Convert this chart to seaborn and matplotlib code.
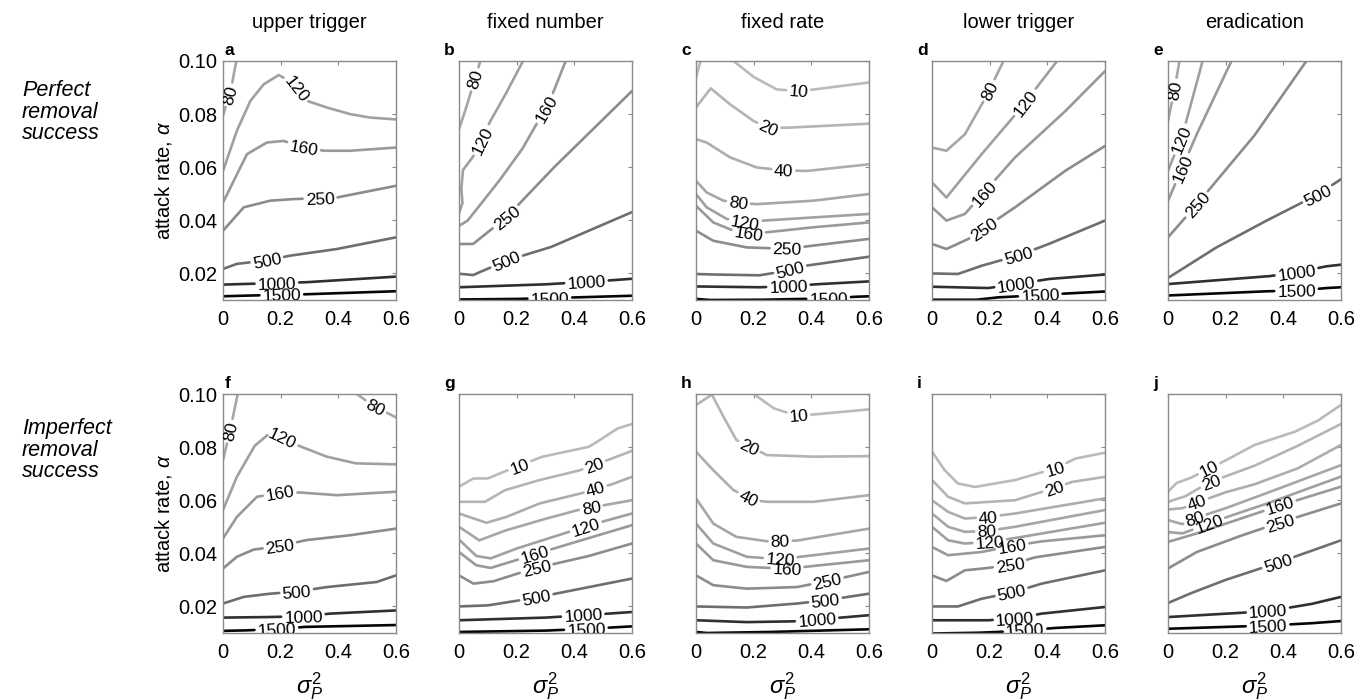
import numpy as np
import matplotlib
matplotlib.use("Agg")
import matplotlib.pyplot as plt
import seaborn as sns
from matplotlib.font_manager import FontProperties

# ---------------- data (contour polylines) ----------------
LEVELS = [10, 20, 40, 80, 120, 160, 250, 500, 1000, 1500]
COL_TITLES = ["upper trigger", "fixed number", "fixed rate", "lower trigger", "eradication"]
PANEL_LETTERS = ["a", "b", "c", "d", "e", "f", "g", "h", "i", "j"]
ROW_LABELS = ["Perfect\nremoval\nsuccess", "Imperfect\nremoval\nsuccess"]
X_TICKS = [0, 0.2, 0.4, 0.6]
X_TICKLABELS = ["0", "0.2", "0.4", "0.6"]
Y_TICKS = [0.02, 0.04, 0.06, 0.08, 0.10]
Y_TICKLABELS = ["0.02", "0.04", "0.06", "0.08", "0.10"]

# panel a : upper trigger, perfect removal
A_LINES = {
    80: [([0.0, 0.031, 0.046], [0.0793, 0.0912, 0.100])],
    120: [([0, 0.048, 0.095, 0.141, 0.193, 0.240, 0.291, 0.36, 0.441, 0.51, 0.6],
           [0.0586, 0.0737, 0.085, 0.0912, 0.0947, 0.092, 0.085, 0.0825, 0.080, 0.0787, 0.078])],
    160: [([0, 0.083, 0.152, 0.21, 0.28, 0.35, 0.44, 0.6],
           [0.0467, 0.0649, 0.0693, 0.0699, 0.0675, 0.0662, 0.0662, 0.0674])],
    250: [([0, 0.072, 0.164, 0.245, 0.395, 0.6], [0.0361, 0.0449, 0.0474, 0.048, 0.0486, 0.053])],
    500: [([0, 0.048, 0.15, 0.233, 0.395, 0.6], [0.0217, 0.0236, 0.0249, 0.0267, 0.0292, 0.0336])],
    1000: [([0, 0.095, 0.29, 0.6], [0.0158, 0.0161, 0.0167, 0.0188])],
    1500: [([0, 0.1, 0.27, 0.6], [0.0114, 0.0117, 0.0121, 0.0133])],
}
A_LABELS = [(80, 0.037, 0.0868), (120, 0.256, 0.0897), (160, 0.279, 0.0668), (250, 0.337, 0.0477),
            (500, 0.152, 0.0251), (1000, 0.187, 0.0154), (1500, 0.204, 0.0112)]

# panel b : fixed number, perfect removal
B_LINES = {
    80: [([0, 0.025, 0.074], [0.0743, 0.0825, 0.10])],
    120: [([0.0, 0.012, 0.008, 0.014, 0.049, 0.107, 0.164, 0.222],
           [0.0427, 0.0465, 0.052, 0.059, 0.064, 0.077, 0.088, 0.10])],
    160: [([0, 0.03, 0.14, 0.22, 0.315, 0.37], [0.0379, 0.0399, 0.055, 0.067, 0.085, 0.10])],
    250: [([0, 0.049, 0.164, 0.33, 0.6], [0.0311, 0.0311, 0.0411, 0.060, 0.0887])],
    500: [([0, 0.049, 0.164, 0.32, 0.6], [0.0199, 0.0194, 0.0248, 0.030, 0.0431])],
    1000: [([0, 0.3, 0.5, 0.6], [0.0148, 0.0159, 0.0172, 0.018])],
    1500: [([0, 0.2, 0.41, 0.6], [0.0102, 0.0104, 0.011, 0.0116])],
}
B_LABELS = [(80, 0.054, 0.0931), (120, 0.095, 0.0693), (160, 0.3, 0.082), (250, 0.164, 0.0411),
            (500, 0.164, 0.0248), (1000, 0.442, 0.0167), (1500, 0.315, 0.0108)]

# panel c : fixed rate, perfect removal
C_LINES = {
    10: [([0.13, 0.2, 0.28, 0.356, 0.41, 0.6], [0.10, 0.094, 0.0893, 0.0887, 0.0893, 0.0919]),
         ([0, 0.014], [0.0937, 0.0994])],
    20: [([0, 0.051, 0.118, 0.2, 0.252, 0.32, 0.6], [0.0825, 0.0897, 0.0837, 0.0774, 0.0748, 0.0749, 0.0764])],
    40: [([0, 0.037, 0.118, 0.211, 0.304, 0.385, 0.6], [0.0706, 0.0693, 0.0637, 0.0599, 0.0588, 0.0586, 0.0611])],
    80: [([0, 0.037, 0.095, 0.147, 0.211, 0.408, 0.6], [0.0549, 0.0505, 0.0474, 0.0466, 0.0461, 0.0474, 0.0499])],
    120: [([0, 0.037, 0.107, 0.171, 0.234, 0.408, 0.6], [0.0499, 0.0449, 0.0405, 0.0393, 0.0399, 0.0411, 0.0424])],
    160: [([0, 0.06, 0.13, 0.182, 0.246, 0.408, 0.6], [0.0455, 0.0392, 0.0361, 0.0352, 0.0355, 0.0374, 0.0392])],
    250: [([0, 0.06, 0.176, 0.316, 0.408, 0.6], [0.0361, 0.0323, 0.0298, 0.0293, 0.0305, 0.033])],
    500: [([0, 0.06, 0.22, 0.30, 0.38, 0.6], [0.0198, 0.0196, 0.0193, 0.0207, 0.0229, 0.0263])],
    1000: [([0, 0.223, 0.321, 0.43, 0.6], [0.0151, 0.0148, 0.0152, 0.016, 0.017])],
    1500: [([0, 0.05, 0.23, 0.46, 0.55, 0.6], [0.0104, 0.0100, 0.0101, 0.0106, 0.0112, 0.0114])],
}
C_LABELS = [(10, 0.356, 0.0887), (20, 0.252, 0.0743), (40, 0.304, 0.0586), (80, 0.147, 0.0467),
            (120, 0.171, 0.0392), (160, 0.182, 0.0348), (250, 0.316, 0.0292), (500, 0.327, 0.0213),
            (1000, 0.321, 0.0138), (1500, 0.46, 0.0106)]

# panel d : lower trigger, perfect removal
D_LINES = {
    80: [([0, 0.05, 0.114, 0.19, 0.248], [0.0674, 0.0662, 0.0724, 0.087, 0.10])],
    120: [([0, 0.05, 0.172, 0.3, 0.434], [0.0543, 0.0486, 0.0649, 0.0812, 0.10])],
    160: [([0, 0.05, 0.114, 0.288, 0.463, 0.6], [0.0449, 0.0399, 0.0424, 0.0637, 0.0812, 0.0962])],
    250: [([0, 0.05, 0.126, 0.288, 0.463, 0.6], [0.0311, 0.0292, 0.033, 0.0449, 0.0587, 0.068])],
    500: [([0, 0.09, 0.172, 0.3, 0.405, 0.6], [0.020, 0.0198, 0.0229, 0.0268, 0.0311, 0.0399])],
    1000: [([0, 0.195, 0.294, 0.405, 0.6], [0.015, 0.0145, 0.016, 0.0179, 0.0196])],
    1500: [([0, 0.155, 0.23, 0.376, 0.44, 0.6], [0.0101, 0.0101, 0.011, 0.0118, 0.0123, 0.0132])],
}
D_LABELS = [(80, 0.201, 0.0887), (120, 0.323, 0.0843), (160, 0.178, 0.0505), (250, 0.184, 0.0361),
            (500, 0.3, 0.0267), (1000, 0.294, 0.0148), (1500, 0.376, 0.0108)]

# panel e : eradication, perfect removal
E_LINES = {
    80: [([0, 0.02, 0.04], [0.0774, 0.088, 0.10])],
    120: [([0, 0.05, 0.12], [0.0587, 0.072, 0.10])],
    160: [([0, 0.1, 0.22], [0.0474, 0.0725, 0.10])],
    250: [([0, 0.1, 0.3, 0.48], [0.0336, 0.046, 0.072, 0.10])],
    500: [([0, 0.168, 0.342, 0.521, 0.6], [0.0183, 0.0298, 0.0399, 0.0498, 0.0555])],
    1000: [([0, 0.353, 0.446, 0.55, 0.6], [0.016, 0.019, 0.0204, 0.0227, 0.0233])],
    1500: [([0, 0.347, 0.446, 0.55, 0.6], [0.0117, 0.0133, 0.0135, 0.0145, 0.0148])],
}
E_LABELS = [(80, 0.038, 0.0887), (120, 0.058, 0.0699), (160, 0.043, 0.0599), (250, 0.098, 0.0461),
            (500, 0.521, 0.0492), (1000, 0.446, 0.0204), (1500, 0.446, 0.0129)]

# panel f : upper trigger, imperfect removal
F_LINES = {
    80: [([0, 0.025, 0.051], [0.0751, 0.0864, 0.10]), ([0.464, 0.522, 0.6], [0.10, 0.0955, 0.0912])],
    120: [([0, 0.048, 0.11, 0.165, 0.204, 0.256, 0.36, 0.46, 0.6],
           [0.0563, 0.0688, 0.0805, 0.0855, 0.0835, 0.0808, 0.0764, 0.0739, 0.0735])],
    160: [([0, 0.048, 0.118, 0.198, 0.268, 0.395, 0.6], [0.0456, 0.0537, 0.0613, 0.0628, 0.0629, 0.0619, 0.0632])],
    250: [([0, 0.048, 0.106, 0.198, 0.29, 0.44, 0.6], [0.0343, 0.0387, 0.0414, 0.0428, 0.045, 0.0468, 0.0493])],
    500: [([0, 0.072, 0.164, 0.256, 0.36, 0.533, 0.6], [0.0211, 0.0236, 0.0248, 0.0256, 0.0273, 0.0292, 0.0317])],
    1000: [([0, 0.152, 0.279, 0.372, 0.6], [0.0158, 0.016, 0.0163, 0.0173, 0.0185])],
    1500: [([0, 0.083, 0.187, 0.285, 0.6], [0.0108, 0.011, 0.0115, 0.0123, 0.013])],
}
F_LABELS = [(80, 0.031, 0.0858), (80, 0.522, 0.0933), (120, 0.204, 0.0827), (160, 0.198, 0.0625),
            (250, 0.198, 0.0424), (500, 0.256, 0.0248), (1000, 0.279, 0.016), (1500, 0.187, 0.0108)]

# panel g : fixed number, imperfect removal
G_LINES = {
    10: [([0, 0.05, 0.1, 0.2, 0.29, 0.45, 0.47, 0.55, 0.6],
          [0.0651, 0.0682, 0.0682, 0.0727, 0.0764, 0.0801, 0.0814, 0.087, 0.0887])],
    20: [([0, 0.09, 0.16, 0.28, 0.42, 0.53, 0.6], [0.0594, 0.0594, 0.0638, 0.0676, 0.0713, 0.0757, 0.0786])],
    40: [([0, 0.095, 0.164, 0.28, 0.42, 0.53, 0.6], [0.055, 0.0515, 0.0537, 0.0588, 0.0625, 0.066, 0.0688])],
    80: [([0, 0.07, 0.164, 0.3, 0.42, 0.6], [0.05, 0.0449, 0.0487, 0.053, 0.0565, 0.06])],
    120: [([0, 0.06, 0.11, 0.2, 0.35, 0.45, 0.6], [0.0452, 0.039, 0.0381, 0.0418, 0.047, 0.0505, 0.055])],
    160: [([0, 0.06, 0.11, 0.2, 0.35, 0.6], [0.0405, 0.0355, 0.0345, 0.0375, 0.0425, 0.0506])],
    250: [([0, 0.05, 0.12, 0.25, 0.45, 0.6], [0.0317, 0.0286, 0.0295, 0.034, 0.039, 0.0437])],
    500: [([0, 0.1, 0.25, 0.4, 0.6], [0.020, 0.0204, 0.023, 0.0262, 0.0305])],
    1000: [([0, 0.3, 0.45, 0.6], [0.0148, 0.0158, 0.0168, 0.0179])],
    1500: [([0, 0.3, 0.45, 0.6], [0.0104, 0.0109, 0.0116, 0.0125])],
}
G_LABELS = [(10, 0.211, 0.0726), (20, 0.471, 0.0726), (40, 0.471, 0.0653), (80, 0.46, 0.0563),
            (120, 0.442, 0.0493), (160, 0.263, 0.0393), (250, 0.269, 0.0343), (500, 0.269, 0.023),
            (1000, 0.431, 0.0163), (1500, 0.442, 0.0108)]

# panel h : fixed rate, imperfect removal
H_LINES = {
    10: [([0.2, 0.27, 0.35, 0.43, 0.6], [0.10, 0.0946, 0.0918, 0.0925, 0.0942])],
    20: [([0, 0.055, 0.095, 0.14, 0.246, 0.408, 0.6], [0.0958, 0.0998, 0.0915, 0.0827, 0.077, 0.0764, 0.0766])],
    40: [([0, 0.06, 0.13, 0.2, 0.246, 0.408, 0.6], [0.0783, 0.0713, 0.0638, 0.060, 0.0594, 0.0594, 0.0619])],
    80: [([0, 0.06, 0.14, 0.25, 0.35, 0.6], [0.0607, 0.0512, 0.0462, 0.0445, 0.0448, 0.0493])],
    120: [([0, 0.06, 0.176, 0.292, 0.408, 0.6], [0.0512, 0.0437, 0.0387, 0.0378, 0.0393, 0.0418])],
    160: [([0, 0.06, 0.176, 0.316, 0.43, 0.6], [0.0437, 0.0374, 0.0349, 0.0342, 0.0355, 0.0374])],
    250: [([0, 0.06, 0.176, 0.35, 0.455, 0.6], [0.0317, 0.028, 0.0267, 0.0273, 0.0295, 0.033])],
    500: [([0, 0.176, 0.35, 0.449, 0.6], [0.020, 0.0196, 0.0211, 0.0223, 0.0248])],
    1000: [([0, 0.176, 0.34, 0.525, 0.6], [0.0148, 0.0141, 0.0144, 0.016, 0.0167])],
    1500: [([0, 0.037, 0.258, 0.6], [0.0104, 0.010, 0.0104, 0.0114])],
}
H_LABELS = [(10, 0.356, 0.0915), (20, 0.182, 0.0795), (40, 0.176, 0.0594), (80, 0.292, 0.0443),
            (120, 0.292, 0.0374), (160, 0.316, 0.0336), (250, 0.455, 0.0299), (500, 0.449, 0.0223),
            (1000, 0.42, 0.0148)]

# panel i : lower trigger, imperfect removal
I_LINES = {
    10: [([0, 0.044, 0.09, 0.149, 0.288, 0.428, 0.498, 0.6], [0.0783, 0.0713, 0.0663, 0.065, 0.0676, 0.072, 0.0757, 0.0779])],
    20: [([0, 0.056, 0.114, 0.288, 0.422, 0.486, 0.6], [0.0676, 0.0613, 0.0588, 0.060, 0.0645, 0.0669, 0.0688])],
    40: [([0, 0.056, 0.114, 0.195, 0.288, 0.6], [0.060, 0.0556, 0.0531, 0.0537, 0.055, 0.0607])],
    80: [([0, 0.056, 0.114, 0.19, 0.288, 0.6], [0.055, 0.050, 0.0481, 0.0484, 0.050, 0.0563])],
    120: [([0, 0.056, 0.114, 0.201, 0.312, 0.6], [0.050, 0.0449, 0.0437, 0.0443, 0.0462, 0.0515])],
    160: [([0, 0.056, 0.172, 0.277, 0.381, 0.6], [0.0424, 0.0393, 0.0405, 0.0428, 0.0445, 0.0468])],
    250: [([0, 0.05, 0.114, 0.195, 0.271, 0.358, 0.6], [0.0317, 0.0296, 0.0336, 0.0345, 0.0358, 0.0385, 0.0424])],
    500: [([0, 0.09, 0.172, 0.277, 0.381, 0.6], [0.020, 0.020, 0.0229, 0.0252, 0.0286, 0.0336])],
    1000: [([0, 0.195, 0.288, 0.381, 0.6], [0.0148, 0.0148, 0.0155, 0.0173, 0.0198])],
    1500: [([0, 0.16, 0.23, 0.323, 0.428, 0.6], [0.0098, 0.0101, 0.0104, 0.011, 0.0119, 0.0129])],
}
I_LABELS = [(10, 0.428, 0.0713), (20, 0.422, 0.065), (40, 0.195, 0.0537), (80, 0.19, 0.0481),
            (120, 0.201, 0.0443), (160, 0.277, 0.0431), (250, 0.271, 0.0355), (500, 0.277, 0.0248),
            (1000, 0.288, 0.015), (1500, 0.323, 0.0107)]

# panel j : eradication, imperfect removal
J_LINES = {
    10: [([0, 0.03, 0.08, 0.139, 0.2, 0.3, 0.44, 0.52, 0.6], [0.0632, 0.0665, 0.0685, 0.0717, 0.075, 0.0808, 0.0858, 0.09, 0.0959])],
    20: [([0, 0.06, 0.145, 0.3, 0.45, 0.6], [0.0594, 0.0615, 0.0668, 0.073, 0.0805, 0.0887])],
    40: [([0, 0.05, 0.098, 0.2, 0.3, 0.45, 0.6], [0.0565, 0.057, 0.059, 0.063, 0.066, 0.072, 0.0808])],
    80: [([0, 0.05, 0.087, 0.2, 0.35, 0.6], [0.0525, 0.051, 0.053, 0.057, 0.063, 0.0732])],
    120: [([0, 0.05, 0.1, 0.2, 0.35, 0.6], [0.048, 0.0475, 0.0495, 0.0535, 0.059, 0.0689])],
    160: [([0, 0.1, 0.25, 0.388, 0.6], [0.0443, 0.0475, 0.053, 0.058, 0.0651])],
    250: [([0, 0.1, 0.25, 0.388, 0.6], [0.0343, 0.0405, 0.0465, 0.0516, 0.0588])],
    500: [([0, 0.08, 0.2, 0.382, 0.6], [0.0213, 0.025, 0.030, 0.0365, 0.0449])],
    1000: [([0, 0.347, 0.5, 0.6], [0.016, 0.0182, 0.021, 0.0236])],
    1500: [([0, 0.347, 0.5, 0.6], [0.0116, 0.0128, 0.0137, 0.0145])],
}
J_LABELS = [(10, 0.139, 0.0726), (20, 0.145, 0.0682), (40, 0.098, 0.060), (80, 0.087, 0.055),
            (120, 0.139, 0.0519), (160, 0.388, 0.0582), (250, 0.388, 0.0519), (500, 0.382, 0.0362),
            (1000, 0.347, 0.018), (1500, 0.347, 0.013)]

PANELS = [(A_LINES, A_LABELS), (B_LINES, B_LABELS), (C_LINES, C_LABELS), (D_LINES, D_LABELS),
          (E_LINES, E_LABELS), (F_LINES, F_LABELS), (G_LINES, G_LABELS), (H_LINES, H_LABELS),
          (I_LINES, I_LABELS), (J_LINES, J_LABELS)]

# ---------------- style ----------------
LEVEL_COLORS = {10: '#bababa', 20: '#b4b4b4', 40: '#adadad', 80: '#a6a6a6', 120: '#a0a0a0',
                160: '#999999', 250: '#8c8c8c', 500: '#6e6e6e', 1000: '#303030', 1500: '#060606'}
LINE_W = 1.9
LABEL_FS = 12.5

sns.set_theme(style="white")
plt.rcParams['font.family'] = ['Liberation Sans', 'DejaVu Sans']
plt.rcParams['mathtext.fontset'] = 'custom'
plt.rcParams['mathtext.rm'] = 'Liberation Sans'
plt.rcParams['mathtext.it'] = 'Liberation Sans:italic'
plt.rcParams['mathtext.bf'] = 'Liberation Sans:bold'
plt.rcParams['text.color'] = 'black'
plt.rcParams['axes.labelcolor'] = 'black'
plt.rcParams['xtick.labelcolor'] = 'black'
plt.rcParams['ytick.labelcolor'] = 'black'

W, H = 1369, 700
fig = plt.figure(figsize=(W / 100, H / 100), dpi=100)
renderer = fig.canvas.get_renderer()

BOX_LEFT = [223, 459, 696, 932, 1168]
BOX_W = 173
BOX_TOP = [61, 394]
BOX_H = 239


def split_polyline(P, cuts):
    """Split display-space polyline P removing arc-length intervals in cuts."""
    seg = np.diff(P, axis=0)
    lens = np.hypot(seg[:, 0], seg[:, 1])
    cum = np.concatenate([[0], np.cumsum(lens)])
    total = cum[-1]

    def point_at(s):
        k = np.searchsorted(cum, s, side='right') - 1
        k = min(max(k, 0), len(seg) - 1)
        t = (s - cum[k]) / lens[k] if lens[k] > 0 else 0
        return P[k] + t * seg[k]

    keep = []
    start = 0.0
    for a, b in sorted(cuts):
        if a > start:
            keep.append((start, a))
        start = max(start, b)
    if start < total:
        keep.append((start, total))
    pieces = []
    for a, b in keep:
        a = max(a, 0); b = min(b, total)
        if b - a < 0.5:
            continue
        inner = [P[k] for k in range(len(P)) if a < cum[k] < b]
        pts = [point_at(a)] + inner + [point_at(b)]
        pieces.append(np.array(pts))
    return pieces


fp = FontProperties(family='Liberation Sans', size=LABEL_FS)

for idx, (lines, labels) in enumerate(PANELS):
    r, c = divmod(idx, 5)
    left = BOX_LEFT[c] / W
    bottom = 1 - (BOX_TOP[r] + BOX_H) / H
    ax = fig.add_axes([left, bottom, BOX_W / W, BOX_H / H])
    ax.set_xlim(0, 0.6)
    ax.set_ylim(0.01, 0.10)

    cuts = {}
    for lev, lx, ly in labels:
        q = ax.transData.transform((lx, ly))
        best = None
        for si, (xs, ys) in enumerate(lines[lev]):
            P = ax.transData.transform(np.column_stack([xs, ys]))
            cum = 0.0
            for k in range(len(P) - 1):
                a, b = P[k], P[k + 1]
                d = b - a
                L = np.hypot(*d)
                t = np.clip(np.dot(q - a, d) / L ** 2, 0, 1)
                p = a + t * d
                dist = np.hypot(*(q - p))
                if best is None or dist < best[0]:
                    best = (dist, si, cum + t * L, p, np.degrees(np.arctan2(d[1], d[0])))
                cum += L
        _, si, s_c, p, ang = best
        if ang > 90:
            ang -= 180
        if ang <= -90:
            ang += 180
        txt = str(lev)
        w, h, dsc = renderer.get_text_width_height_descent(txt, fp, ismath=False)
        half = w / 2 + 3
        cuts.setdefault((lev, si), []).append((s_c - half, s_c + half))
        pd_ = ax.transData.inverted().transform(p)
        ax.text(pd_[0], pd_[1], txt, rotation=ang, rotation_mode='anchor', ha='center',
                va='center_baseline', fontsize=LABEL_FS, color='black', clip_on=True, zorder=5)

    for lev in LEVELS:
        if lev not in lines:
            continue
        for si, (xs, ys) in enumerate(lines[lev]):
            P = ax.transData.transform(np.column_stack([xs, ys]))
            for piece in split_polyline(P, cuts.get((lev, si), [])):
                D = ax.transData.inverted().transform(piece)
                sns.lineplot(x=D[:, 0], y=D[:, 1], sort=False, estimator=None, ax=ax,
                             color=LEVEL_COLORS[lev], lw=LINE_W, legend=False)

    ax.set_xlim(0, 0.6)
    ax.set_ylim(0.01, 0.10)
    ax.set_xticks(X_TICKS)
    ax.set_xticklabels(X_TICKLABELS)
    ax.set_yticks(Y_TICKS)
    ax.set_yticklabels(Y_TICKLABELS)
    ax.tick_params(direction='in', length=3, width=0.8, top=True, right=True,
                   color='#8a8a8a', labelcolor='black', labelsize=14.5)
    ax.tick_params(axis='x', pad=7)
    ax.tick_params(axis='y', pad=4)
    ax.set_xlabel('')
    ax.set_ylabel('')
    if c != 0:
        ax.tick_params(labelleft=False)
    else:
        ax.set_ylabel(r'attack rate, $\alpha$', fontsize=14.5, labelpad=3, color='black')
    if r == 1:
        ax.set_xlabel(r'$\sigma_P^2$', fontsize=17, labelpad=6, color='black')
    for s in ax.spines.values():
        s.set_color('#8a8a8a')
        s.set_linewidth(1.0)
    ax.set_facecolor('white')

    # panel letter
    lx = (BOX_LEFT[c] + 2) if c == 0 else (BOX_LEFT[c] - 15)
    fig.text(lx / W, 1 - (BOX_TOP[r] - 3) / H, PANEL_LETTERS[idx], fontsize=12.5,
             fontweight='bold', ha='left', va='bottom', color='black')

    if r == 0:
        fig.text((BOX_LEFT[c] + BOX_W / 2) / W, 1 - 23 / H, COL_TITLES[c], fontsize=14.5,
                 ha='center', va='center', color='black')

fig.text(22 / W, 1 - 112 / H, ROW_LABELS[0], fontsize=15.5, style='italic', ha='left',
         va='center', linespacing=1.05, color='black')
fig.text(22 / W, 1 - 450 / H, ROW_LABELS[1], fontsize=15.5, style='italic', ha='left',
         va='center', linespacing=1.05, color='black')

fig.savefig("out.png", dpi=100, facecolor='white')
